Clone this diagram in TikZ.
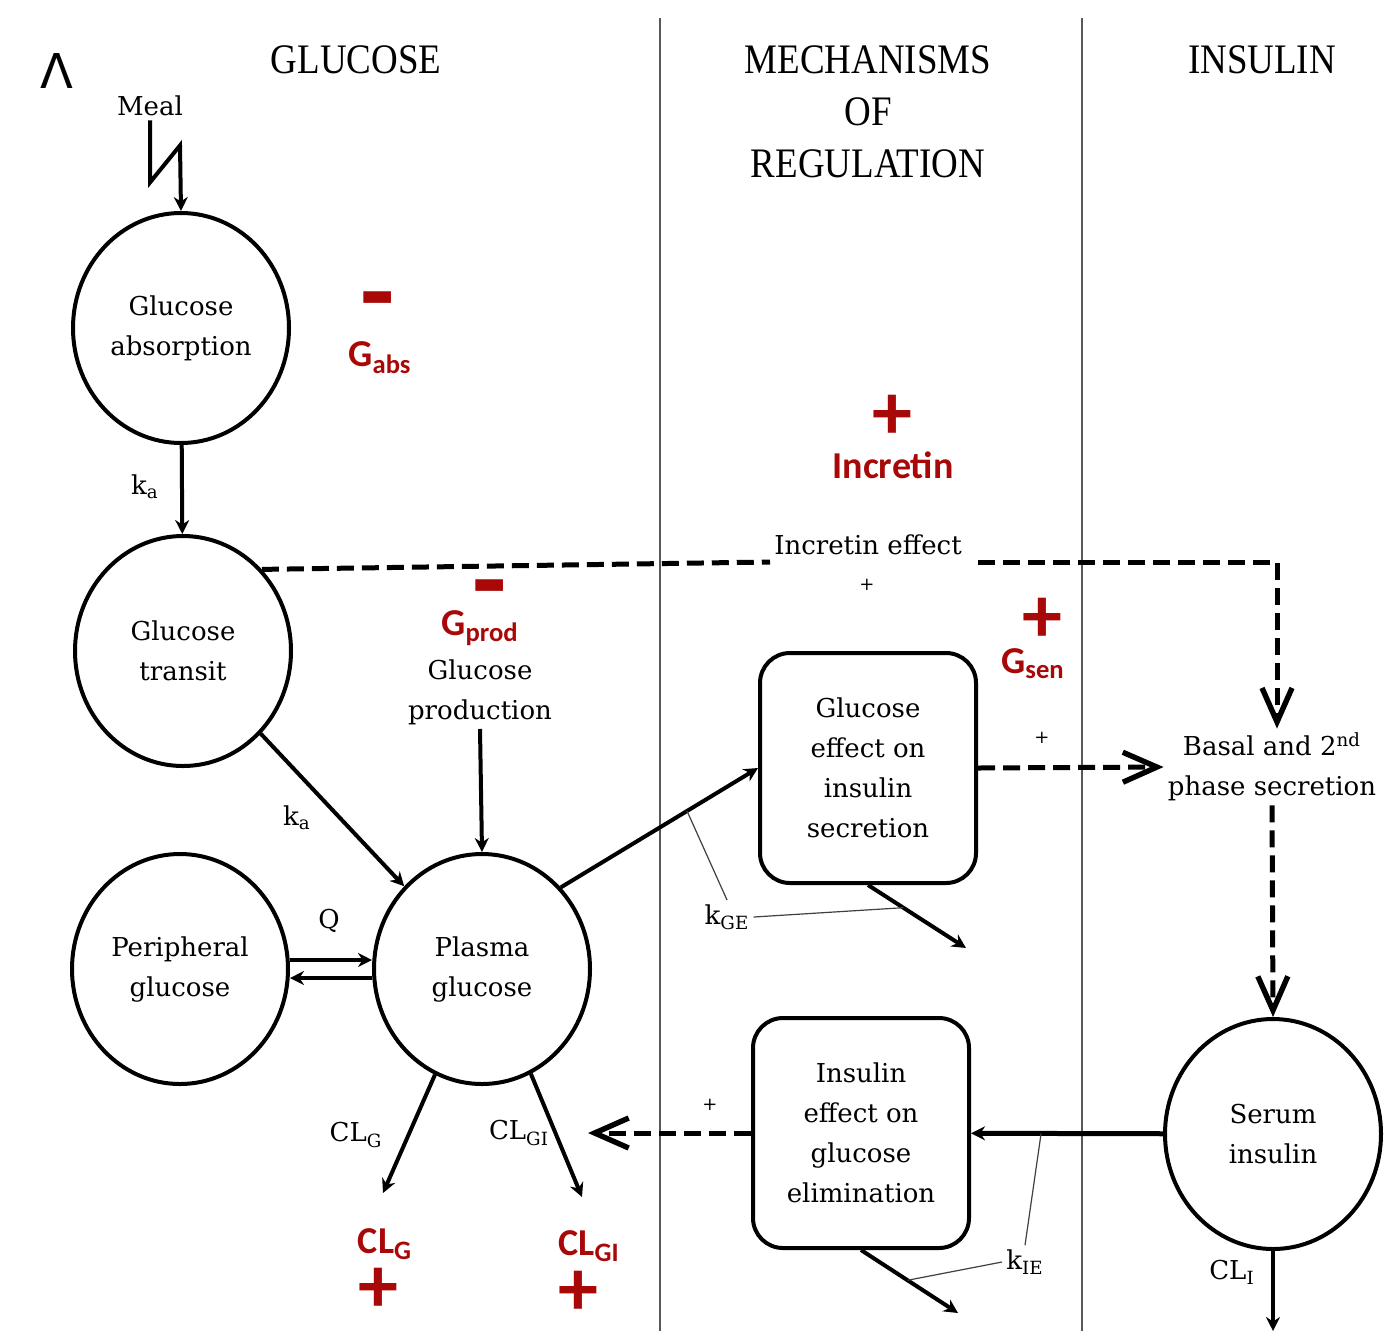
\documentclass[tikz,border=0pt]{standalone}
\usepackage{fontspec}
\setmainfont{DejaVu Serif}
\newfontfamily\calfont{Carlito}
\newfontfamily\headfont[FakeStretch=0.88]{Liberation Serif}
\newfontfamily\panelfont{DejaVu Sans}
\usetikzlibrary{arrows.meta,shapes.geometric}
\definecolor{paramred}{RGB}{168,8,8}

\begin{document}
\begin{tikzpicture}[x=0.5pt, y=-0.5pt,
    txt/.style={font=\fontsize{13}{20}\selectfont, align=center, inner sep=2pt},
    pool/.style={txt, ellipse, draw, line width=2pt, minimum width=108pt, minimum height=115pt, inner sep=0pt},
    effbox/.style={txt, draw, line width=2pt, rounded corners=15pt, minimum width=108pt, minimum height=115pt},
    colhead/.style={font=\headfont\fontsize{21}{26}\selectfont, align=center},
    parlabel/.style={font=\calfont\bfseries\fontsize{19}{22}\selectfont, text=paramred, inner sep=0pt},
    sgn/.style={font=\calfont\bfseries\fontsize{40}{40}\selectfont, text=paramred, inner sep=0pt},
    minussgn/.style={sgn, font=\calfont\bfseries\fontsize{56}{56}\selectfont, text depth=0pt},
    pluslabel/.style={font=\fontsize{9}{9}\selectfont, inner sep=0pt},
    flow/.style={line width=2pt, -{Stealth[length=7pt,width=7pt]}},
    dline/.style={line width=2.5pt, dash pattern=on 8.5pt off 4pt},
    signal/.style={dline, -{Straight Barb[length=17pt,width=15pt,line width=2.7pt]}},
    leader/.style={line width=0.6pt, black!75},
    divider/.style={line width=0.8pt, black!65}]
    \path[fill=white] (0,0) rectangle (1384,1331);
    % three columns: glucose | mechanisms of regulation | insulin
    \foreach \dx in {660,1082}
      \draw[divider] (\dx,18) -- (\dx,1331);
    \node[font=\panelfont\fontsize{24}{24}\selectfont, inner sep=0pt] (panel) at (57,71) {Λ};
    \node[colhead] (hglu)  at (356,60)  {GLUCOSE};
    \node[colhead] (hmech) at (868,112) {MECHANISMS\\OF\\REGULATION};
    \node[colhead] (hins)  at (1262,60) {INSULIN};

    % compartments and effect boxes
    \node[pool] (absorb)  at (181,328)  {Glucose\\absorption};
    \node[pool] (transit) at (183,651)  {Glucose\\transit};
    \node[pool] (periph)  at (180,969)  {Peripheral\\glucose};
    \node[pool] (plasma)  at (482,969)  {Plasma\\glucose};
    \node[pool] (serum)   at (1273,1134) {Serum\\insulin};
    \node[effbox] (geffect) at (868,768)  {Glucose\\effect on\\insulin\\secretion};
    \node[effbox] (ieffect) at (861,1133) {Insulin\\effect on\\glucose\\elimination};
    \node[txt] (meal)     at (150,106) {Meal};
    \node[txt] (gprodtxt) at (480,692) {Glucose\\production};
    \node[txt] (basal)    at (1272,767) {Basal and 2\textsuperscript{nd}\\phase secretion};
    \node[txt] (incfx)    at (868,545) {Incretin effect};

    % rate constants
    \node[txt] (ka1)  at (145,487)  {k\textsubscript{a}};
    \node[txt] (ka2)  at (297,818)  {k\textsubscript{a}};
    \node[txt] (qlab) at (329,921)  {Q};
    \node[txt] (clg)  at (356,1135) {CL\textsubscript{G}};
    \node[txt] (clgi) at (519,1133) {CL\textsubscript{GI}};
    \node[txt] (cli)  at (1232,1272) {CL\textsubscript{I}};
    \node[txt] (kge)  at (727,917)  {k\textsubscript{GE}};
    \node[txt] (kie)  at (1025,1262) {k\textsubscript{IE}};
    \foreach \px/\py/\nm in {867/585/pinc, 1042/738/psen, 710/1105/pins}
      \node[pluslabel] (\nm) at (\px,\py) {+};

    % covariate effects (red)
    \node[minussgn] (absminus)  at (378,311)  {-};
    \node[parlabel] (gabs) at (380,358)  {G\textsubscript{abs}};
    \node[sgn] (incplus)   at (892,417)  {+};
    \node[parlabel] (incretin) at (893,465) {Incretin};
    \node[minussgn] (prodminus) at (490,599)  {-};
    \node[parlabel] (gprod) at (480,628) {G\textsubscript{prod}};
    \node[sgn] (senplus)   at (1042,620) {+};
    \node[parlabel] (gsen) at (1033,664) {G\textsubscript{sen}};
    \node[parlabel] (clgred)  at (385,1244) {CL\textsubscript{G}};
    \node[sgn] (clgplus)   at (378,1290) {+};
    \node[parlabel] (clgired) at (589,1246) {CL\textsubscript{GI}};
    \node[sgn] (clgiplus)  at (578,1293) {+};

    % free ends
    \coordinate (incL) at (770,562);
    \coordinate (incR) at (978,562);
    \coordinate (inccorner) at (1277,562);
    \coordinate (clgend)  at (383,1193);
    \coordinate (clgiend) at (582,1197);
    \coordinate (geout)   at (966,948);
    \coordinate (ieout)   at (958,1313);
    \coordinate (insback) at (588,1133);
    \coordinate (clout)   at (1273,1331);

    % glucose side
    \draw[flow] (meal.south) -- ++(0,62) -- ++(30,-37) -- (absorb.north);
    \draw[flow] (absorb) -- (transit);
    \draw[flow] (transit) -- (plasma);
    \draw[flow] (gprodtxt.south) -- (plasma.north);
    \draw[flow] ([yshift=4.5pt]periph.east) -- ([yshift=4.5pt]plasma.west);
    \draw[flow] ([yshift=-4.5pt]plasma.west) -- ([yshift=-4.5pt]periph.east);
    \draw[flow] (plasma.246) -- (clgend);
    \draw[flow] (plasma.295) -- (clgiend);

    % regulation
    \draw[flow] (plasma.46) -- coordinate[pos=0.64] (kgefoot) (geffect.west);
    \draw[flow] (geffect.south) -- coordinate[pos=0.36] (kgefoot2) (geout);
    \draw[leader] (kgefoot) -- (kge.north);
    \draw[leader] (kge.east) -- (kgefoot2);
    \draw[dline] (transit.46) -- (incL);
    \draw[signal] (incR) -- (inccorner) -- (inccorner |- basal.north);
    \draw[signal] (geffect.east) -- (basal.west);
    \draw[signal] (basal.south) -- (serum.north);

    % insulin side
    \draw[flow, line width=2.5pt] (serum) -- coordinate[pos=0.635] (kiefoot) (ieffect);
    \draw[flow] (ieffect.south) -- coordinate[pos=0.48] (kiefoot2) (ieout);
    \draw[leader] (kiefoot) -- (kie.north);
    \draw[leader] (kie.west) -- (kiefoot2);
    \draw[signal] (ieffect.west) -- (insback);
    \draw[flow] (serum.south) -- (clout);
\end{tikzpicture}
\end{document}
